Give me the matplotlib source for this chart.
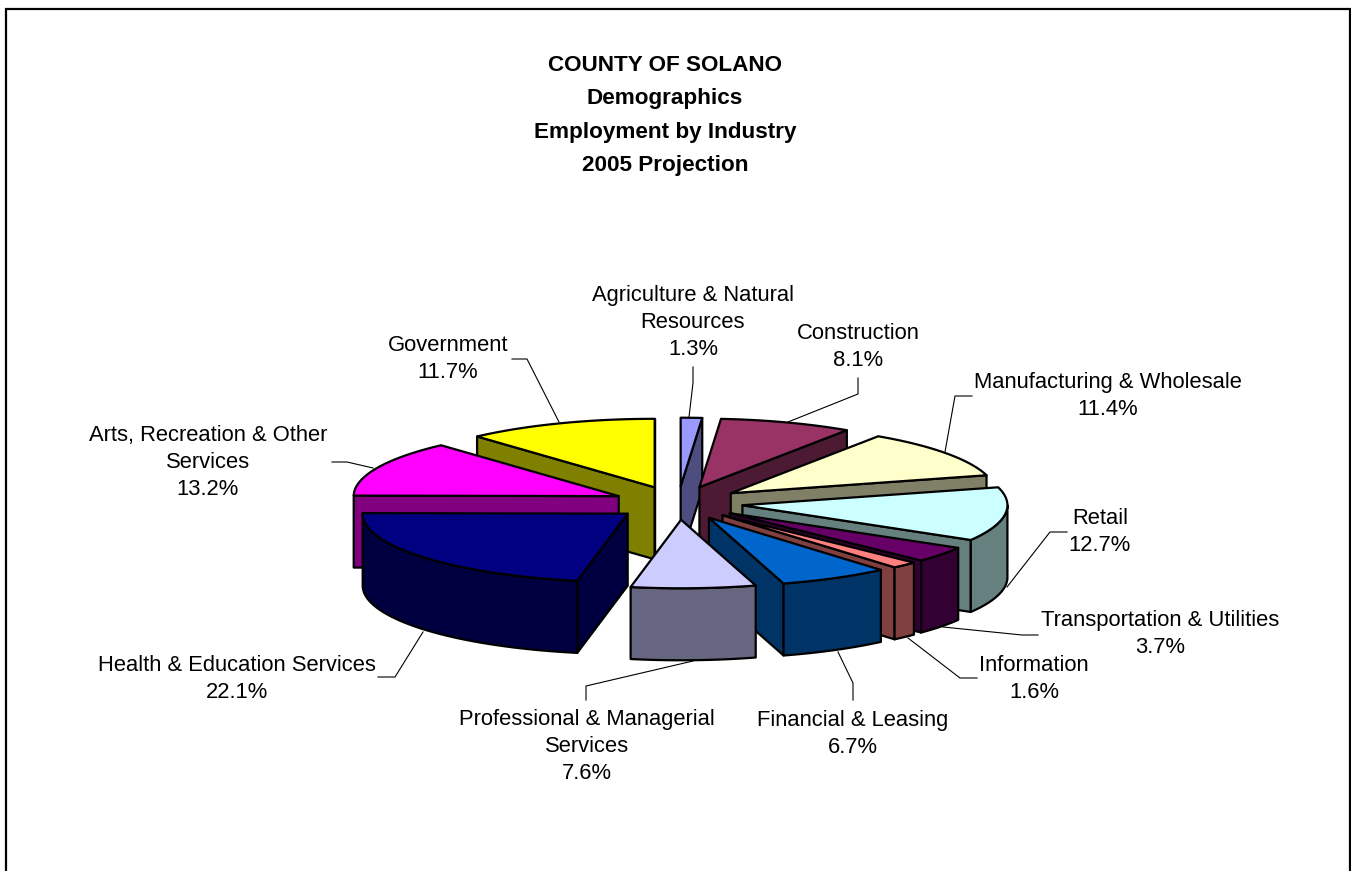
import numpy as np
import matplotlib
matplotlib.use('Agg')
import matplotlib.pyplot as plt
from matplotlib.patches import Polygon

plt.rcParams['font.family'] = ['Liberation Sans', 'DejaVu Sans']

# data, clockwise from 12 o'clock
categories = ['Agriculture & Natural\nResources', 'Construction', 'Manufacturing & Wholesale',
              'Retail', 'Transportation & Utilities', 'Information', 'Financial & Leasing',
              'Professional & Managerial\nServices', 'Health & Education Services',
              'Arts, Recreation & Other\nServices', 'Government']
shares = [1.3, 8.1, 11.4, 12.7, 3.7, 1.6, 6.7, 7.6, 22.1, 13.2, 11.7]
title_lines = ['COUNTY OF SOLANO', 'Demographics', 'Employment by Industry', '2005 Projection']

colors = ['#9999FF', '#993366', '#FFFFCC', '#CCFFFF', '#660066', '#FF8080',
          '#0066CC', '#CCCCFF', '#000080', '#FF00FF', '#FFFF00']

# label layout in pixels: centre x, baseline y of first line
label_pos = [(693, 301), (858, 339), (1108, 388), (1100, 524), (1160, 626), (1034, 671),
             (853, 726), (587, 725), (237, 671), (208, 441), (448, 351)]
# leader lines in pixels
leaders = [
    [(693, 367), (693, 383), (689, 417)],
    [(858, 378), (858, 394), (788, 422)],
    [(972, 396), (955, 396), (945, 452)],
    [(1067, 532), (1050, 532), (1007, 587)],
    [(1038, 635), (1022, 635), (943, 627)],
    [(977, 678), (960, 678), (908, 638)],
    [(853, 700), (853, 683), (838, 652)],
    [(586, 700), (586, 686), (693, 661)],
    [(378, 677), (395, 677), (423, 632)],
    [(332, 462), (347, 462), (373, 468)],
    [(512, 359), (527, 359), (559, 422)],
]

# pie geometry in pixels
cx, cy = 678, 503
rx, ry = 265, 68.5
explode = 65
depth = 72
line_step = 27.2

W, H = 1351, 871
fig = plt.figure(figsize=(W / 100, H / 100), dpi=100)
ax = fig.add_axes([0, 0, 1, 1])
ax.set_xlim(0, W)
ax.set_ylim(H, 0)
ax.axis('off')

# outer frame, bottom edge is cut off in the original
ax.plot([6, 6, 1350, 1350], [H, 9, 9, H], color='black', lw=1.6, solid_joinstyle='miter')


def darker(c):
    return tuple(v * 0.5 for v in matplotlib.colors.to_rgb(c))


def rim(x0, y0, a1, a2, dy=0):
    t = np.radians(np.linspace(a1, a2, 80))
    return np.column_stack([x0 + rx * np.sin(t), y0 - ry * np.cos(t) + dy])


def face(pts, fc, z):
    ax.add_patch(Polygon(pts, closed=True, facecolor=fc, edgecolor='black',
                         lw=1.6, joinstyle='round', zorder=z))


total = sum(shares)
edges = np.cumsum([0] + shares) / total * 360
mids = (edges[:-1] + edges[1:]) / 2

# back slices first
order = sorted(range(len(shares)), key=lambda i: -np.cos(np.radians(mids[i])))
z = 2
for i in order:
    a1, a2 = edges[i], edges[i + 1]
    m = np.radians(mids[i])
    x0 = cx + explode * np.sin(m)
    y0 = cy - explode * np.cos(m) * ry / rx
    side = darker(colors[i])
    apex = np.array([x0, y0])
    for a, visible in ((a1, np.sin(np.radians(a1)) < 0), (a2, np.sin(np.radians(a2)) > 0)):
        if visible:
            p = rim(x0, y0, a, a)[0]
            face([apex, p, p + [0, depth], apex + [0, depth]], side, z)
            z += 1
    lo, hi = max(a1, 90), min(a2, 270)
    if hi > lo:
        face(np.vstack([rim(x0, y0, lo, hi), rim(x0, y0, hi, lo, depth)]), side, z)
        z += 1
    face(np.vstack([apex, rim(x0, y0, a1, a2)]), colors[i], z)
    z += 1

for pts in leaders:
    ax.plot(*zip(*pts), color='black', lw=0.8, zorder=1)

for name, share, (x, y) in zip(categories, shares, label_pos):
    lines = name.split('\n') + [f'{share:.1f}%']
    for k, line in enumerate(lines):
        ax.text(x, y + k * line_step, line, ha='center', va='baseline', fontsize=15.8, color='black')

for k, line in enumerate(title_lines):
    ax.text(665, 71 + k * 33.4, line, ha='center', va='baseline', fontsize=16.2, fontweight='bold')

fig.savefig('out.png', dpi=100)
